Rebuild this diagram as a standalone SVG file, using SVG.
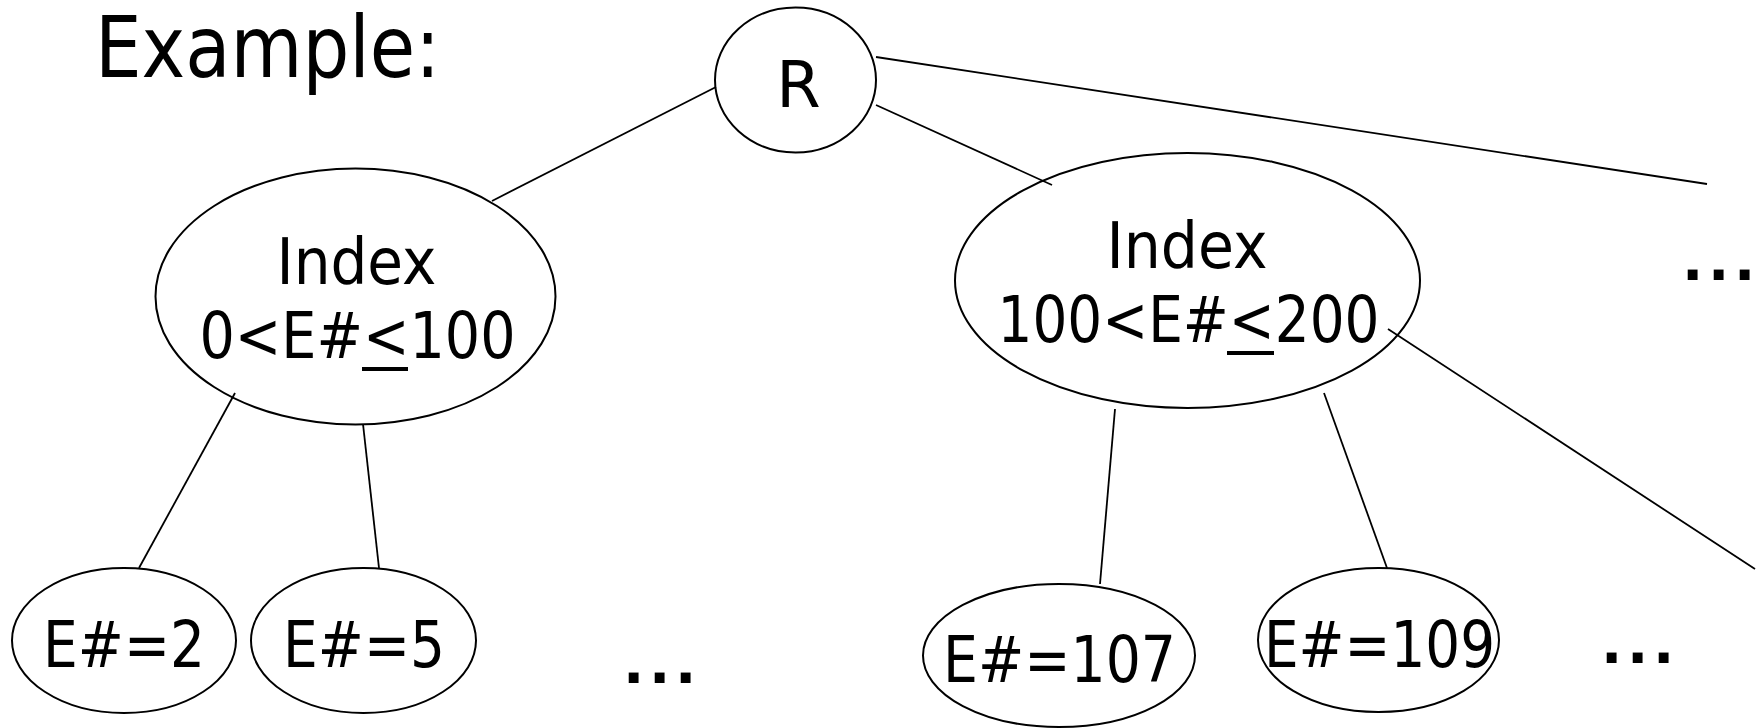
<svg xmlns="http://www.w3.org/2000/svg" width="1760" height="728" viewBox="0 0 1760 728">
<style>
.node ellipse{fill:#fff;stroke:#000;stroke-width:2}
.lbl{font-family:"DejaVu Sans","Liberation Sans",sans-serif;font-size:64px;fill:#000;text-anchor:middle}
.title{font-family:"DejaVu Sans","Liberation Sans",sans-serif;font-size:86px;fill:#000;text-anchor:middle}
.dots{font-family:"DejaVu Sans","Liberation Sans",sans-serif;font-size:56px;font-weight:bold;fill:#000;letter-spacing:4.7px}
#connectors line{stroke:#000;stroke-width:1.8}
</style>
<rect width="1760" height="728" fill="#fff"/>
<text class="title" x="267.5" y="77" textLength="345" lengthAdjust="spacingAndGlyphs">Example:</text>
<g id="node-R" class="node">
<ellipse cx="795.5" cy="80" rx="80.5" ry="72.5"/>
<text class="lbl" x="798.5" y="107">R</text>
</g>
<g id="node-index-0-100" class="node">
<ellipse cx="355.5" cy="296.5" rx="200" ry="128"/>
<text class="lbl" x="356.5" y="284" textLength="160" lengthAdjust="spacingAndGlyphs">Index</text>
<text class="lbl" x="357.5" y="358" textLength="316" lengthAdjust="spacingAndGlyphs">0&lt;E#&lt;100</text>
<rect x="362" y="367" width="46" height="4" fill="#000"/>
</g>
<g id="node-index-100-200" class="node">
<ellipse cx="1187.5" cy="280.5" rx="232.5" ry="127.5"/>
<text class="lbl" x="1187" y="268" textLength="161" lengthAdjust="spacingAndGlyphs">Index</text>
<text class="lbl" x="1188.5" y="342" textLength="382" lengthAdjust="spacingAndGlyphs">100&lt;E#&lt;200</text>
<rect x="1227" y="351" width="47" height="4" fill="#000"/>
</g>
<g id="node-e2" class="node">
<ellipse cx="124" cy="640.5" rx="112" ry="72.5"/>
<text class="lbl" x="124" y="667" textLength="162" lengthAdjust="spacingAndGlyphs">E#=2</text>
</g>
<g id="node-e5" class="node">
<ellipse cx="363.5" cy="640.5" rx="112.5" ry="72.5"/>
<text class="lbl" x="364" y="667" textLength="162" lengthAdjust="spacingAndGlyphs">E#=5</text>
</g>
<g id="node-e107" class="node">
<ellipse cx="1059" cy="655.5" rx="136" ry="71.5"/>
<text class="lbl" x="1059.5" y="682" textLength="233" lengthAdjust="spacingAndGlyphs">E#=107</text>
</g>
<g id="node-e109" class="node">
<ellipse cx="1378.5" cy="640" rx="120.5" ry="72"/>
<text class="lbl" x="1379.5" y="667" textLength="231" lengthAdjust="spacingAndGlyphs">E#=109</text>
</g>
<g id="connectors">
<line x1="716" y1="87" x2="492" y2="201"/>
<line x1="876" y1="105" x2="1052" y2="185"/>
<line x1="876" y1="57" x2="1707" y2="184"/>
<line x1="235" y1="393" x2="139" y2="568"/>
<line x1="363" y1="424" x2="379" y2="568"/>
<line x1="1115" y1="409" x2="1100" y2="584"/>
<line x1="1324" y1="393" x2="1387" y2="568"/>
<line x1="1388" y1="329" x2="1755" y2="569"/>
</g>
<g id="ellipsis-bottom-left"><text class="dots" x="623" y="683">...</text></g>
<g id="ellipsis-bottom-right"><text class="dots" x="1601" y="663">...</text></g>
<g id="ellipsis-top-right"><text class="dots" x="1682" y="280">...</text></g>
</svg>
